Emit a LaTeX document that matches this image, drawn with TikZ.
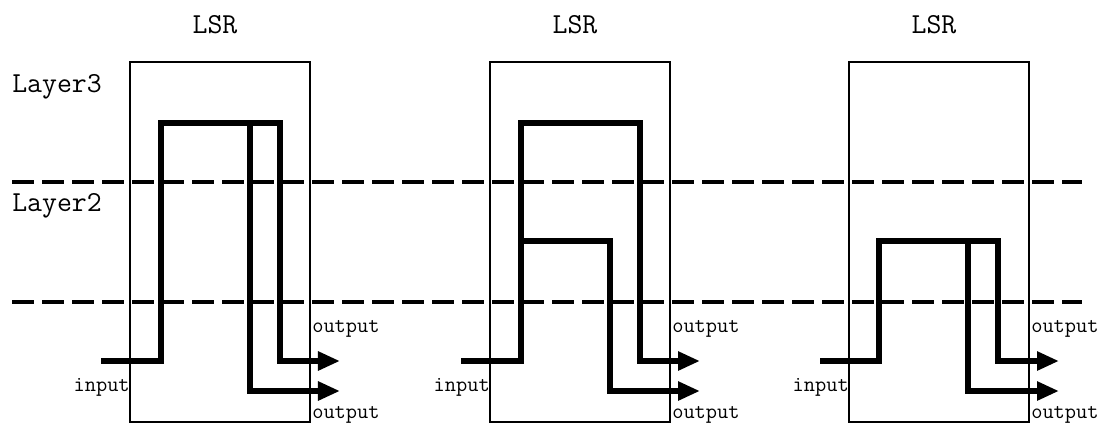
\documentclass[tikz,border=0pt]{standalone}
\usepackage{fontspec}
\usetikzlibrary{arrows.meta}

\begin{document}
\begin{tikzpicture}[x=0.025cm, y=-0.025cm,
  lsrbox/.style={draw, line width=1pt, minimum width=4.5cm, minimum height=9cm, inner sep=0pt},
  layerline/.style={line width=3.5pt, dash pattern=on 0.55cm off 0.2cm},
  flow/.style={line width=4pt, line join=miter},
  outflow/.style={flow, -{Triangle[length=0.55cm, width=0.45cm]}},
  bigtxt/.style={font=\ttfamily\fontsize{20.6}{24}\selectfont, inner sep=0pt},
  smalltxt/.style={font=\ttfamily\fontsize{15.5}{18}\selectfont, inner sep=0pt}
]
\useasboundingbox (0,0) rectangle (1103,424);
% layer borders
\draw[layerline] (12,182) -- (1082,182);
\draw[layerline] (12,302) -- (1082,302);
\node[bigtxt, anchor=base west] (l3) at (12,92) {Layer3};
\node[bigtxt, anchor=base west] (l2) at (12,211) {Layer2};
% the three routers
\foreach \i/\dx in {1/0, 2/360, 3/719} {
  \node[lsrbox] (lsr\i) at (220+\dx,242) {};
  \node[bigtxt, anchor=base] (name\i) at (215+\dx,33) {LSR};
  \node[smalltxt, anchor=base east] (in\i) at (130+\dx,391) {input};
  \node[smalltxt, anchor=base west] (outa\i) at (312+\dx,332) {output};
  \node[smalltxt, anchor=base west] (outb\i) at (312+\dx,418) {output};
  \coordinate (src\i) at (101+\dx,361);
  \coordinate (dsta\i) at (340+\dx,361);
  \coordinate (dstb\i) at (340+\dx,391);
}
% paths
\draw[outflow] (src1) -| (161,123) -| (280,361) -- (dsta1);
\draw[outflow] (250,123) |- (dstb1);
\draw[outflow] (src2) -| (521,123) -| (640,361) -- (dsta2);
\draw[outflow] (521,241) -| (610,391) -- (dstb2);
\draw[outflow] (src3) -| (879,241) -| (998,361) -- (dsta3);
\draw[outflow] (968,241) |- (dstb3);
\end{tikzpicture}
\end{document}
